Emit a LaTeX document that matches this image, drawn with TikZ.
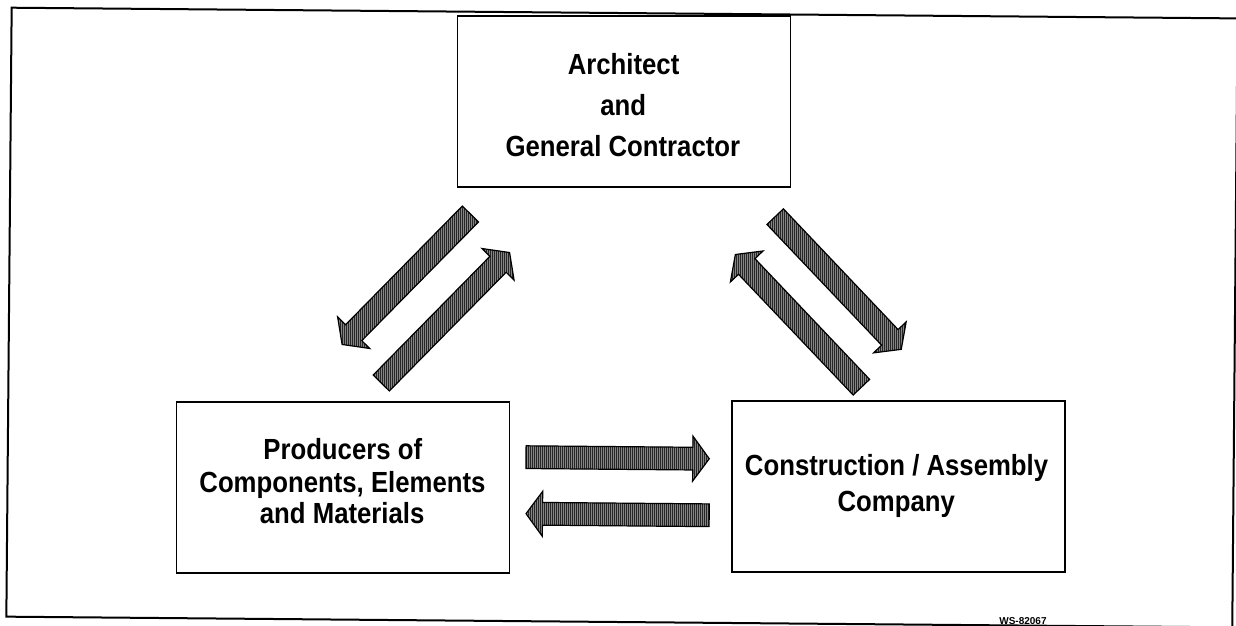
\documentclass[tikz,border=0pt]{standalone}
\usepackage{fontspec}
\usepackage{graphicx}
\setmainfont{Liberation Sans}
\usetikzlibrary{calc,patterns.meta}

% block arrow with a hatched body, drawn from a tail coordinate to a tip coordinate
\newcommand\flowarrow[2]{%
  \path[flow]
    ($(#1)!11.35pt!90:(#2)$)
    -- ($(#2)!16.5pt!(#1)!11.35pt!90:(#2)$)
    -- ($(#2)!16.5pt!(#1)!22.5pt!90:(#2)$)
    -- (#2)
    -- ($(#2)!16.5pt!(#1)!22.5pt!-90:(#2)$)
    -- ($(#2)!16.5pt!(#1)!11.35pt!-90:(#2)$)
    -- ($(#1)!11.35pt!-90:(#2)$)
    -- cycle;}
% slightly tall lettering for the party names
\newcommand\tallword[1]{\scalebox{0.99}[1.12]{#1}}

\begin{document}
\begin{tikzpicture}[x=1pt,y=-1pt,
  box/.style={draw=black, line width=1.4pt, minimum width=333pt,
    minimum height=171pt, inner sep=0pt},
  caption/.style={font=\fontsize{26}{26}\selectfont\bfseries,
    inner sep=0pt, anchor=base},
  flow/.style={draw=black, line width=1.2pt, line join=miter,
    preaction={fill=black!48},
    pattern={Lines[angle=90,distance=2pt,line width=0.8pt]},
    pattern color=black!85},
]
\useasboundingbox[fill=white] (0,0) rectangle (1236,626);

\begin{scope}[rotate around={-0.5:(618,313)}]
  % sheet border
  \draw[line width=2pt] (9,13) rectangle (1235,622);

  % the three parties
  \node[box] (arch) at (622,101.5) {};
  \node[box] (prod) at (344.5,490) {};
  \node[box] (cons) at (900,484) {};

  \node[caption] (arch1) at (621.5,74) {\tallword{Architect}};
  \node[caption] (arch2) at (621.5,115) {\tallword{and}};
  \node[caption] (arch3) at (621.5,156) {\tallword{General Contractor}};

  \node[caption] (prod1) at (344,461.5) {\tallword{Producers of}};
  \node[caption] (prod2) at (344,494.5) {\tallword{Components, Elements}};
  \node[caption] (prod3) at (344,525.5) {\tallword{and Materials}};

  \node[caption] (cons1) at (898,472.6) {\tallword{Construction / Assembly}};
  \node[caption] (cons2) at (898,509.3) {\tallword{Company}};

  \node[font=\fontsize{10}{10}\selectfont\bfseries, inner sep=0pt,
    anchor=base] (ref) at (1025.7,621) {WS-82067};

  % end points of the information flows
  \coordinate (a-tail) at (469.6,215.3);
  \coordinate (a-tip)  at (342.4,346.9);
  \coordinate (b-tail) at (381.9,385.1);
  \coordinate (b-tip)  at (509.1,253.5);
  \coordinate (c-tail) at (774.4,215.3);
  \coordinate (c-tip)  at (901.6,346.9);
  \coordinate (d-tail) at (862.1,385.1);
  \coordinate (d-tip)  at (734.9,253.5);
  \coordinate (e-tail) at (527.3,458);
  \coordinate (e-tip)  at (710.6,458);
  \coordinate (f-tail) at (711,514.5);
  \coordinate (f-tip)  at (527.8,514.5);

  \flowarrow{a-tail}{a-tip}
  \flowarrow{b-tail}{b-tip}
  \flowarrow{c-tail}{c-tip}
  \flowarrow{d-tail}{d-tip}
  \flowarrow{e-tail}{e-tip}
  \flowarrow{f-tail}{f-tip}
\end{scope}
\end{tikzpicture}
\end{document}
